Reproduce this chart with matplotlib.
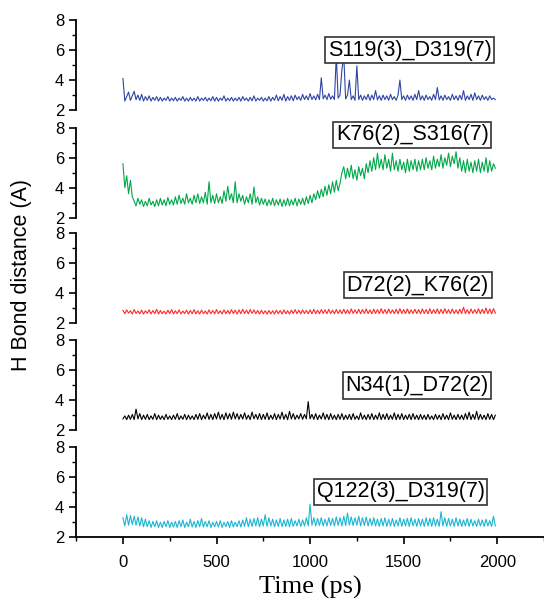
import matplotlib
matplotlib.use("Agg")
import matplotlib.pyplot as plt
from matplotlib.ticker import MultipleLocator
import numpy as np

plt.rcParams['font.family'] = ['Liberation Sans', 'DejaVu Sans']

# time axis (ps), one sample every 10 ps
time = np.arange(0, 2000, 10)

s119_d319 = [4.1, 2.6, 2.9, 3.2, 2.65, 2.95, 3.25, 2.7, 3.0, 2.65, 3.05, 2.6, 2.9, 2.65, 2.95, 2.6, 2.85, 2.65, 2.9, 2.6,
             2.85, 2.6, 2.8, 2.65, 2.9, 2.6, 2.8, 2.62, 2.85, 2.6, 2.8, 2.65, 2.9, 2.6, 2.8, 2.6, 2.85, 2.62, 2.8, 2.6,
             2.9, 2.6, 2.8, 2.65, 2.85, 2.6, 2.8, 2.62, 2.9, 2.6, 2.85, 2.6, 2.8, 2.65, 2.95, 2.6, 2.8, 2.62, 2.85, 2.6,
             2.8, 2.62, 2.85, 2.6, 2.9, 2.65, 2.8, 2.6, 2.85, 2.62, 2.95, 2.6, 2.8, 2.65, 2.85, 2.6, 2.8, 2.62, 2.9, 2.6,
             2.85, 2.65, 3.0, 2.62, 2.9, 2.65, 3.05, 2.6, 2.9, 2.65, 2.95, 2.62, 3.0, 2.7, 2.9, 2.65, 3.05, 2.7, 2.95, 2.68,
             3.1, 2.7, 2.95, 2.68, 3.05, 2.7, 4.15, 2.75, 3.0, 2.7, 3.1, 2.72, 2.95, 2.7, 5.6, 2.8, 3.0, 4.7, 5.6, 2.75,
             3.0, 4.0, 2.7, 2.95, 2.65, 4.95, 2.7, 3.0, 2.65, 2.95, 2.7, 3.05, 2.65, 3.0, 2.7, 3.3, 2.68, 2.95, 2.65, 3.0,
             2.7, 2.95, 2.65, 3.05, 2.7, 2.9, 2.65, 3.0, 4.0, 2.7, 2.95, 2.65, 3.0, 2.7, 2.95, 2.65, 3.05, 2.7, 3.3, 2.68,
             2.95, 2.65, 3.0, 2.7, 2.9, 2.65, 3.05, 2.7, 3.5, 2.68, 2.95, 2.65, 3.0, 2.7, 2.9, 2.65, 3.05, 2.7, 2.95, 2.65,
             3.0, 2.7, 3.3, 2.65, 2.95, 2.7, 3.05, 2.65, 3.15, 2.7, 2.95, 2.65, 3.0, 2.7, 2.9, 2.65, 2.95, 2.7, 2.8, 2.7]

k76_s316 = [5.6, 4.0, 4.8, 3.6, 4.5, 3.4, 3.1, 2.8, 3.3, 2.9, 3.2, 2.75, 3.1, 2.8, 3.3, 2.85, 3.1, 2.75, 3.2, 2.8,
            3.3, 2.85, 3.2, 2.8, 3.35, 2.9, 3.2, 2.85, 3.4, 2.9, 3.5, 2.95, 3.3, 2.9, 3.6, 3.0, 3.3, 2.9, 3.5, 3.0,
            3.6, 2.95, 3.4, 3.0, 3.7, 2.9, 4.4, 3.0, 3.5, 2.95, 3.6, 3.0, 3.4, 2.95, 3.8, 3.1, 4.1, 3.2, 3.6, 3.0,
            4.4, 3.0, 3.6, 3.1, 3.5, 2.9, 3.4, 3.0, 3.6, 2.9, 4.05, 3.0, 3.4, 2.85, 3.3, 2.9, 3.25, 2.8, 3.2, 2.85,
            3.3, 2.8, 3.2, 2.85, 3.25, 2.75, 3.2, 2.8, 3.3, 2.8, 3.2, 2.85, 3.3, 2.8, 3.25, 2.9, 3.3, 2.85, 3.4, 2.95,
            3.5, 3.0, 3.6, 3.2, 3.8, 3.3, 3.9, 3.4, 4.1, 3.5, 4.2, 3.6, 4.4, 3.7, 4.5, 3.8, 4.3, 5.0, 5.4, 4.6,
            5.3, 4.7, 5.5, 4.6, 5.2, 4.5, 5.4, 4.8, 5.3, 4.6, 5.6, 5.0, 5.8, 5.1, 6.0, 5.2, 6.3, 5.3, 5.9, 5.2,
            6.2, 5.3, 5.9, 5.1, 6.3, 5.2, 5.8, 5.1, 5.9, 5.2, 5.7, 5.0, 5.9, 5.1, 5.8, 5.2, 5.9, 5.1, 5.8, 5.2,
            5.9, 5.2, 6.0, 5.3, 5.8, 5.2, 6.1, 5.3, 5.9, 5.4, 6.2, 5.3, 6.0, 5.5, 6.3, 5.4, 6.1, 5.6, 6.4, 5.3,
            6.0, 5.1, 5.8, 5.0, 5.9, 5.1, 5.7, 5.0, 5.8, 5.1, 5.9, 5.0, 5.7, 5.1, 6.0, 5.0, 5.8, 5.1, 5.6, 5.3]

d72_k76 = [2.85, 2.62, 2.88, 2.66, 2.82, 2.6, 2.9, 2.64, 2.8, 2.62, 2.86, 2.6, 2.82, 2.65, 2.88, 2.61, 2.84, 2.63, 2.92, 2.6,
           2.84, 2.62, 2.8, 2.6, 2.86, 2.63, 2.9, 2.61, 2.82, 2.62, 2.88, 2.6, 2.8, 2.63, 2.86, 2.6, 2.84, 2.62, 2.9, 2.61,
           2.82, 2.6, 2.86, 2.63, 2.8, 2.6, 2.88, 2.62, 2.84, 2.61, 2.9, 2.63, 2.82, 2.6, 2.88, 2.62, 2.84, 2.61, 2.9, 2.63,
           2.86, 2.6, 2.88, 2.62, 2.92, 2.63, 2.86, 2.61, 2.9, 2.64, 2.88, 2.62, 2.84, 2.6, 2.86, 2.62, 2.82, 2.6, 2.84, 2.61,
           2.82, 2.6, 2.86, 2.62, 2.84, 2.6, 2.88, 2.62, 2.82, 2.6, 2.86, 2.63, 2.9, 2.62, 2.86, 2.61, 2.88, 2.63, 2.84, 2.62,
           2.88, 2.62, 2.92, 2.63, 2.86, 2.62, 2.9, 2.64, 2.88, 2.62, 2.92, 2.63, 2.86, 2.61, 2.9, 2.64, 2.88, 2.62, 2.92, 2.63,
           2.88, 2.62, 2.94, 2.64, 2.88, 2.63, 2.92, 2.62, 2.9, 2.64, 2.94, 2.63, 2.88, 2.62, 2.92, 2.64, 2.9, 2.63, 2.96, 2.64,
           2.9, 2.62, 2.94, 2.64, 2.88, 2.63, 2.92, 2.62, 2.96, 2.64, 2.9, 2.63, 2.94, 2.62, 2.88, 2.64, 2.92, 2.63, 2.9, 2.62,
           2.94, 2.64, 2.9, 2.62, 2.96, 2.63, 2.9, 2.64, 2.94, 2.62, 2.92, 2.63, 2.96, 2.64, 2.9, 2.62, 2.94, 2.63, 2.88, 2.62,
           2.92, 2.64, 3.05, 2.63, 2.9, 2.62, 2.94, 2.64, 2.9, 2.63, 2.96, 2.62, 2.92, 2.64, 3.0, 2.63, 2.94, 2.62, 2.96, 2.66]

n34_d72 = [2.75, 2.95, 2.7, 3.0, 2.72, 3.05, 2.7, 3.4, 2.75, 3.1, 2.7, 3.0, 2.72, 3.05, 2.7, 2.95, 2.72, 3.1, 2.7, 3.0,
           2.72, 2.95, 2.7, 3.05, 2.72, 2.95, 2.7, 3.0, 2.72, 3.1, 2.7, 2.95, 2.72, 3.05, 2.7, 3.0, 2.72, 2.95, 2.7, 3.05,
           2.72, 3.1, 2.7, 3.0, 2.74, 3.15, 2.72, 3.05, 2.7, 3.1, 2.74, 3.2, 2.72, 3.05, 2.7, 3.15, 2.74, 3.1, 2.72, 3.2,
           2.75, 3.1, 2.72, 3.05, 2.74, 3.15, 2.72, 3.0, 2.7, 3.2, 2.75, 3.05, 2.72, 3.1, 2.7, 3.05, 2.72, 3.15, 2.7, 3.0,
           2.72, 3.1, 2.7, 3.05, 2.74, 3.2, 2.72, 3.05, 2.7, 3.25, 2.74, 3.1, 2.72, 3.0, 2.75, 3.1, 2.72, 3.05, 2.75, 3.9,
           2.75, 3.05, 2.72, 3.1, 2.7, 3.0, 2.74, 3.15, 2.72, 3.05, 2.7, 3.1, 2.72, 3.0, 2.7, 3.05, 2.72, 3.1, 2.7, 3.0,
           2.72, 3.05, 2.7, 3.1, 2.72, 2.95, 2.7, 3.15, 2.72, 3.0, 2.7, 3.05, 2.72, 3.1, 2.7, 3.0, 2.72, 3.15, 2.7, 3.05,
           2.72, 3.1, 2.7, 3.0, 2.72, 3.15, 2.7, 3.05, 2.72, 3.1, 2.7, 3.0, 2.72, 3.05, 2.7, 3.1, 2.72, 3.0, 2.7, 3.05,
           2.72, 3.0, 2.7, 3.05, 2.72, 2.95, 2.7, 3.05, 2.72, 3.0, 2.7, 3.1, 2.72, 3.0, 2.7, 3.15, 2.72, 3.0, 2.7, 3.05,
           2.72, 3.0, 2.7, 3.1, 2.72, 3.2, 2.7, 3.05, 2.72, 3.25, 2.7, 3.05, 2.72, 3.0, 2.7, 3.1, 2.72, 3.05, 2.7, 3.0]

q122_d319 = [3.3, 2.75, 3.5, 2.8, 3.45, 2.85, 3.4, 2.8, 3.35, 2.75, 3.3, 2.7, 3.2, 2.7, 3.1, 2.65, 3.05, 2.7, 3.1, 2.65,
             3.0, 2.65, 3.05, 2.7, 3.1, 2.65, 3.0, 2.68, 3.05, 2.65, 3.1, 2.7, 3.15, 2.65, 3.0, 2.7, 3.2, 2.68, 3.05, 2.65,
             3.1, 2.7, 3.25, 2.68, 3.05, 2.7, 3.1, 2.65, 3.0, 2.7, 3.05, 2.68, 3.1, 2.65, 3.0, 2.7, 3.05, 2.65, 3.1, 2.68,
             3.0, 2.7, 3.1, 2.68, 3.15, 2.72, 3.3, 2.7, 3.2, 2.72, 3.25, 2.75, 3.3, 2.7, 3.2, 2.75, 3.5, 2.72, 3.3, 2.75,
             3.2, 2.7, 3.15, 2.72, 3.25, 2.7, 3.15, 2.72, 3.2, 2.7, 3.25, 2.72, 3.1, 2.75, 3.2, 2.72, 3.15, 2.75, 3.3, 2.75,
             4.2, 2.8, 3.3, 2.75, 3.25, 2.78, 3.3, 2.75, 3.2, 2.75, 3.3, 2.78, 3.25, 2.75, 3.35, 2.78, 3.3, 2.75, 3.4, 2.78,
             3.6, 2.8, 3.35, 2.78, 3.3, 2.8, 3.4, 2.75, 3.3, 2.78, 3.35, 2.75, 3.25, 2.78, 3.3, 2.75, 3.2, 2.72, 3.25, 2.75,
             3.3, 2.72, 3.2, 2.75, 3.25, 2.72, 3.15, 2.75, 3.3, 2.72, 3.2, 2.75, 3.25, 2.72, 3.3, 2.75, 3.2, 2.72, 3.25, 2.75,
             3.2, 2.72, 3.3, 2.75, 3.25, 2.72, 3.3, 2.75, 3.2, 2.72, 3.7, 2.75, 3.3, 2.72, 3.25, 2.75, 3.2, 2.72, 3.3, 2.75,
             3.2, 2.72, 3.15, 2.75, 3.25, 2.72, 3.2, 2.75, 3.1, 2.72, 3.2, 2.75, 3.15, 2.72, 3.2, 2.75, 3.1, 2.72, 3.4, 2.75]

series = [s119_d319, k76_s316, d72_k76, n34_d72, q122_d319]
names = ["S119(3)_D319(7)", "K76(2)_S316(7)", "D72(2)_K76(2)",
         "N34(1)_D72(2)", "Q122(3)_D319(7)"]
colors = ["#2f45a5", "#00a84a", "#ff2a2a", "#000000", "#1ab6d2"]
# label box centre (time, distance)
label_pos = [(1533, 5.98), (1546, 7.53), (1576, 4.53), (1571, 4.97), (1485, 5.02)]

fig = plt.figure(figsize=(5.44, 6.05), dpi=100)
bottoms = [0.818, 0.640, 0.466, 0.289, 0.112]
for i in range(5):
    ax = fig.add_axes([0.14, bottoms[i], 0.86, 0.149])
    ax.plot(time, series[i], color=colors[i], lw=0.8)
    ax.set_xlim(-250, 2250)
    ax.set_ylim(2, 8)
    ax.yaxis.set_major_locator(MultipleLocator(2))
    ax.yaxis.set_minor_locator(MultipleLocator(1))
    ax.tick_params(axis='y', which='major', direction='out', length=5, width=1.2, labelsize=12)
    ax.tick_params(axis='y', which='minor', direction='out', length=3, width=1.0)
    for s in ['top', 'right']:
        ax.spines[s].set_visible(False)
    ax.spines['left'].set_linewidth(1.3)
    ax.patch.set_alpha(0)
    if i < 4:
        ax.spines['bottom'].set_visible(False)
        ax.set_xticks([])
    else:
        ax.spines['bottom'].set_linewidth(1.3)
        ax.xaxis.set_minor_locator(MultipleLocator(250))
        ax.set_xticks([0, 500, 1000, 1500, 2000])
        ax.tick_params(axis='x', which='major', direction='out', length=5, width=1.2, labelsize=12, pad=8)
        ax.tick_params(axis='x', which='minor', direction='out', length=3, width=1.0)
        ax.set_xlabel("Time (ps)", family=['Liberation Serif'], fontsize=19)
    ax.text(label_pos[i][0], label_pos[i][1], names[i], ha='center', va='center',
            fontsize=15.5, zorder=5,
            bbox=dict(boxstyle='square,pad=0.12', fc='white', ec='#333333', lw=1.2))

fig.text(0.04, 0.545, "H Bond distance (A)", rotation=90, ha='center', va='center', fontsize=15.5)

fig.savefig("out.png", dpi=100)
